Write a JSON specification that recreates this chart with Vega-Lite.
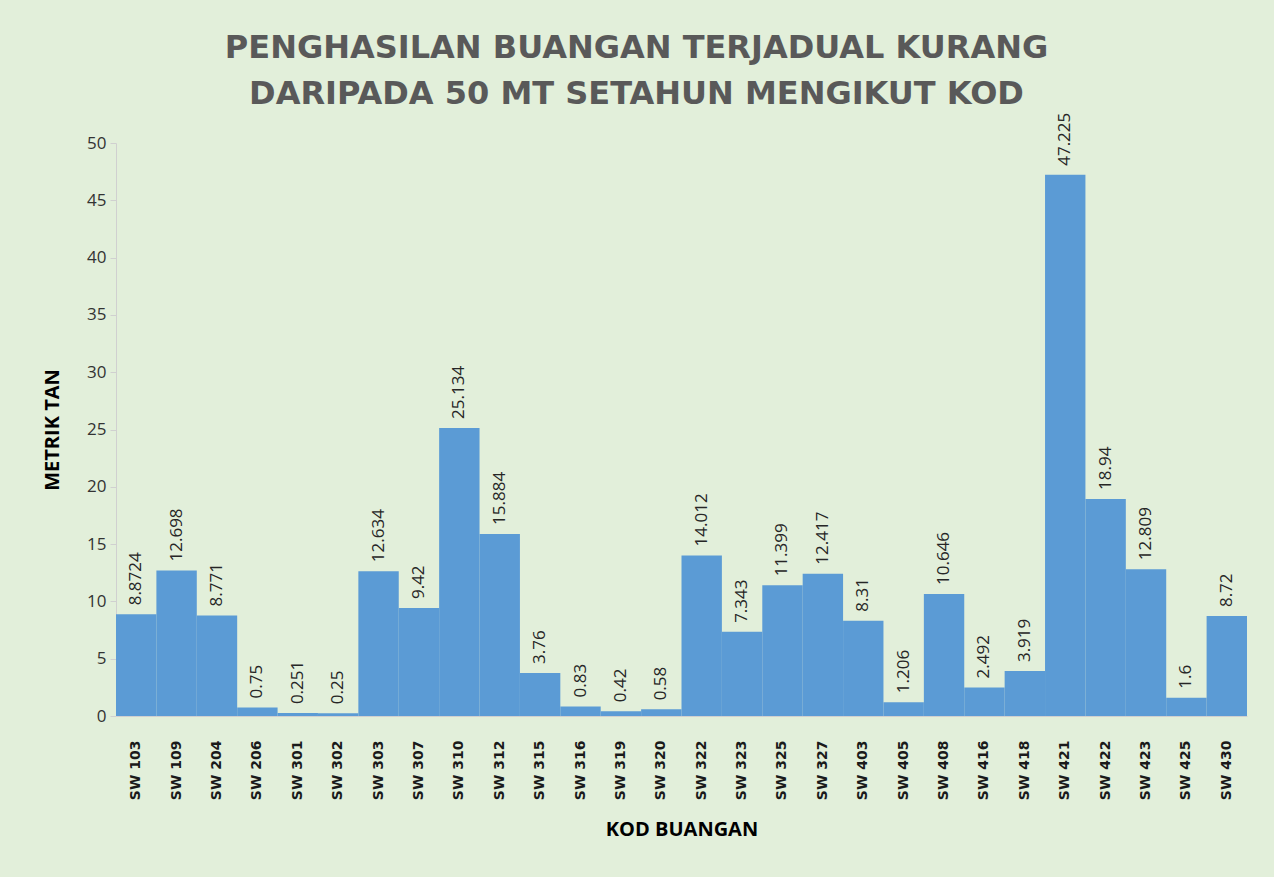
{
  "$schema": "https://vega.github.io/schema/vega-lite/v6.json",
  "width": 1131,
  "height": 573,
  "autosize": {"type": "none"},
  "padding": {"left": 116, "top": 143, "right": 27, "bottom": 161},
  "background": "#e2efda",
  "title": {
    "text": ["PENGHASILAN BUANGAN TERJADUAL KURANG", "DARIPADA 50 MT SETAHUN MENGIKUT KOD"],
    "font": "DejaVu Sans",
    "fontSize": 32,
    "fontWeight": "bold",
    "color": "#595959",
    "lineHeight": 46,
    "offset": 2,
    "dx": -45,
    "anchor": "middle"
  },
  "data": {
    "values": [
      {"kod": "SW 103", "tan": 8.8724},
      {"kod": "SW 109", "tan": 12.698},
      {"kod": "SW 204", "tan": 8.771},
      {"kod": "SW 206", "tan": 0.75},
      {"kod": "SW 301", "tan": 0.251},
      {"kod": "SW 302", "tan": 0.25},
      {"kod": "SW 303", "tan": 12.634},
      {"kod": "SW 307", "tan": 9.42},
      {"kod": "SW 310", "tan": 25.134},
      {"kod": "SW 312", "tan": 15.884},
      {"kod": "SW 315", "tan": 3.76},
      {"kod": "SW 316", "tan": 0.83},
      {"kod": "SW 319", "tan": 0.42},
      {"kod": "SW 320", "tan": 0.58},
      {"kod": "SW 322", "tan": 14.012},
      {"kod": "SW 323", "tan": 7.343},
      {"kod": "SW 325", "tan": 11.399},
      {"kod": "SW 327", "tan": 12.417},
      {"kod": "SW 403", "tan": 8.31},
      {"kod": "SW 405", "tan": 1.206},
      {"kod": "SW 408", "tan": 10.646},
      {"kod": "SW 416", "tan": 2.492},
      {"kod": "SW 418", "tan": 3.919},
      {"kod": "SW 421", "tan": 47.225},
      {"kod": "SW 422", "tan": 18.94},
      {"kod": "SW 423", "tan": 12.809},
      {"kod": "SW 425", "tan": 1.6},
      {"kod": "SW 430", "tan": 8.72}
    ]
  },
  "encoding": {
    "x": {
      "field": "kod",
      "type": "nominal",
      "sort": null,
      "scale": {"paddingInner": 0, "paddingOuter": 0},
      "axis": {
        "title": "KOD BUANGAN",
        "titleFont": "Open Sans",
        "titleFontSize": 20,
        "titleFontWeight": "bold",
        "titleColor": "#000000",
        "titlePadding": 20,
        "labelAngle": -90,
        "labelFont": "DejaVu Sans",
        "labelFontSize": 14,
        "labelFontWeight": "bold",
        "labelColor": "#1a1a1a",
        "labelPadding": 24,
        "ticks": false,
        "domainColor": "#d0d0d0"
      }
    },
    "y": {
      "field": "tan",
      "type": "quantitative",
      "scale": {"domain": [0, 50], "nice": false},
      "axis": {
        "title": "METRIK TAN",
        "titleFont": "Open Sans",
        "titleFontSize": 20,
        "titleFontWeight": "bold",
        "titleColor": "#000000",
        "titlePadding": 24,
        "values": [0, 5, 10, 15, 20, 25, 30, 35, 40, 45, 50],
        "labelFont": "Open Sans",
        "labelFontSize": 17,
        "labelColor": "#333333",
        "labelPadding": 4,
        "tickSize": 6,
        "tickColor": "#d0d0d0",
        "domainColor": "#d0d0d0",
        "grid": false
      }
    }
  },
  "layer": [
    {"mark": {"type": "bar", "color": "#5b9bd5"}},
    {
      "mark": {
        "type": "text",
        "angle": 270,
        "align": "left",
        "baseline": "middle",
        "dx": 9,
        "font": "Open Sans",
        "fontSize": 17,
        "color": "#262626"
      },
      "encoding": {"text": {"field": "tan", "type": "quantitative"}}
    }
  ],
  "config": {"view": {"stroke": null}}
}
